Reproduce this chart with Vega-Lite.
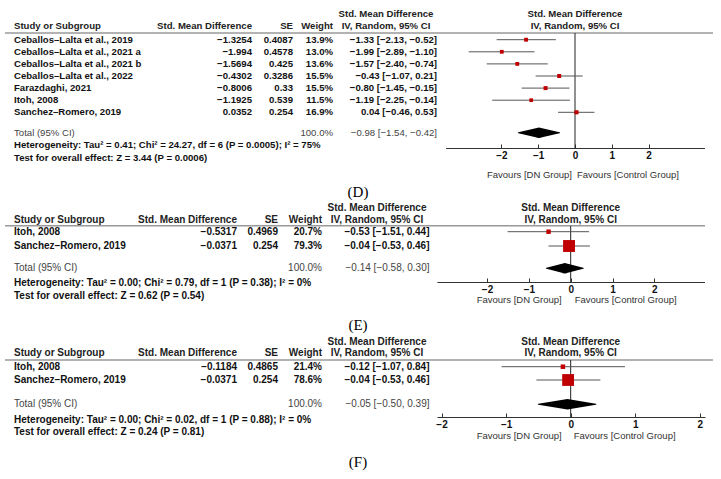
{
"$schema": "https://vega.github.io/schema/vega-lite/v6.json",
"width": 721, "height": 479, "padding": 0, "autosize": {"type": "none"},
"background": "#ffffff",
"config": {"view": {"stroke": null}, "text": {"font": "Liberation Sans", "fontWeight": "bold", "color": "#111111", "baseline": "middle"}},
"datasets": {
"studies": [
{"panel":"D","row":2,"study":"Ceballos–Lalta et al., 2019","smd":"−1.3254","se":"0.4087","weight":13.9,"wlabel":"13.9%","ci":"−1.33 [−2.13, −0.52]","est":-1.33,"lo":-2.13,"hi":-0.52},
{"panel":"D","row":3,"study":"Ceballos–Lalta et al., 2021 a","smd":"−1.994","se":"0.4578","weight":13.0,"wlabel":"13.0%","ci":"−1.99 [−2.89, −1.10]","est":-1.99,"lo":-2.89,"hi":-1.10},
{"panel":"D","row":4,"study":"Ceballos–Lalta et al., 2021 b","smd":"−1.5694","se":"0.425","weight":13.6,"wlabel":"13.6%","ci":"−1.57 [−2.40, −0.74]","est":-1.57,"lo":-2.40,"hi":-0.74},
{"panel":"D","row":5,"study":"Ceballos–Lalta et al., 2022","smd":"−0.4302","se":"0.3286","weight":15.5,"wlabel":"15.5%","ci":"−0.43 [−1.07, 0.21]","est":-0.43,"lo":-1.07,"hi":0.21},
{"panel":"D","row":6,"study":"Farazdaghi, 2021","smd":"−0.8006","se":"0.33","weight":15.5,"wlabel":"15.5%","ci":"−0.80 [−1.45, −0.15]","est":-0.80,"lo":-1.45,"hi":-0.15},
{"panel":"D","row":7,"study":"Itoh, 2008","smd":"−1.1925","se":"0.539","weight":11.5,"wlabel":"11.5%","ci":"−1.19 [−2.25, −0.14]","est":-1.19,"lo":-2.25,"hi":-0.14},
{"panel":"D","row":8,"study":"Sanchez–Romero, 2019","smd":"0.0352","se":"0.254","weight":16.9,"wlabel":"16.9%","ci":"0.04 [−0.46, 0.53]","est":0.04,"lo":-0.46,"hi":0.53},
{"panel":"E","row":16,"study":"Itoh, 2008","smd":"−0.5317","se":"0.4969","weight":20.7,"wlabel":"20.7%","ci":"−0.53 [−1.51, 0.44]","est":-0.53,"lo":-1.51,"hi":0.44},
{"panel":"E","row":17,"study":"Sanchez–Romero, 2019","smd":"−0.0371","se":"0.254","weight":79.3,"wlabel":"79.3%","ci":"−0.04 [−0.53, 0.46]","est":-0.04,"lo":-0.53,"hi":0.46},
{"panel":"F","row":25,"study":"Itoh, 2008","smd":"−0.1184","se":"0.4865","weight":21.4,"wlabel":"21.4%","ci":"−0.12 [−1.07, 0.84]","est":-0.12,"lo":-1.07,"hi":0.84},
{"panel":"F","row":26,"study":"Sanchez–Romero, 2019","smd":"−0.0371","se":"0.254","weight":78.6,"wlabel":"78.6%","ci":"−0.04 [−0.53, 0.46]","est":-0.04,"lo":-0.53,"hi":0.46}
],
"totals": [
{"panel":"D","row":9,"label":"Total (95% CI)","wlabel":"100.0%","ci":"−0.98 [−1.54, −0.42]"},
{"panel":"E","row":18,"label":"Total (95% CI)","wlabel":"100.0%","ci":"−0.14 [−0.58, 0.30]"},
{"panel":"F","row":27,"label":"Total (95% CI)","wlabel":"100.0%","ci":"−0.05 [−0.50, 0.39]"}
],
"diamond": [
{"panel":"D","row":9,"part":"lower","x":-1.54},{"panel":"D","row":9,"part":"estimate","x":-0.98},{"panel":"D","row":9,"part":"upper","x":-0.42},
{"panel":"E","row":18,"part":"lower","x":-0.58},{"panel":"E","row":18,"part":"estimate","x":-0.14},{"panel":"E","row":18,"part":"upper","x":0.30},
{"panel":"F","row":27,"part":"lower","x":-0.50},{"panel":"F","row":27,"part":"estimate","x":-0.05},{"panel":"F","row":27,"part":"upper","x":0.39}
],
"notes": [
{"panel":"D","row":10,"text":"Heterogeneity: Tau² = 0.41; Chi² = 24.27, df = 6 (P = 0.0005); I² = 75%"},
{"panel":"D","row":11,"text":"Test for overall effect: Z = 3.44 (P = 0.0006)"},
{"panel":"E","row":19,"text":"Heterogeneity: Tau² = 0.00; Chi² = 0.79, df = 1 (P = 0.38); I² = 0%"},
{"panel":"E","row":20,"text":"Test for overall effect: Z = 0.62 (P = 0.54)"},
{"panel":"F","row":28,"text":"Heterogeneity: Tau² = 0.00; Chi² = 0.02, df = 1 (P = 0.88); I² = 0%"},
{"panel":"F","row":29,"text":"Test for overall effect: Z = 0.24 (P = 0.81)"}
],
"headers": [
{"panel":"D","row":0,"col":6,"text":"Std. Mean Difference"},
{"panel":"D","row":1,"col":1,"text":"Study or Subgroup"},
{"panel":"D","row":1,"col":2,"text":"Std. Mean Difference"},
{"panel":"D","row":1,"col":3,"text":"SE"},
{"panel":"D","row":1,"col":4,"text":"Weight"},
{"panel":"D","row":1,"col":6,"text":"IV, Random, 95% CI"},
{"panel":"E","row":14,"col":6,"text":"Std. Mean Difference"},
{"panel":"E","row":15,"col":1,"text":"Study or Subgroup"},
{"panel":"E","row":15,"col":2,"text":"Std. Mean Difference"},
{"panel":"E","row":15,"col":3,"text":"SE"},
{"panel":"E","row":15,"col":4,"text":"Weight"},
{"panel":"E","row":15,"col":6,"text":"IV, Random, 95% CI"},
{"panel":"F","row":23,"col":6,"text":"Std. Mean Difference"},
{"panel":"F","row":24,"col":1,"text":"Study or Subgroup"},
{"panel":"F","row":24,"col":2,"text":"Std. Mean Difference"},
{"panel":"F","row":24,"col":3,"text":"SE"},
{"panel":"F","row":24,"col":4,"text":"Weight"},
{"panel":"F","row":24,"col":6,"text":"IV, Random, 95% CI"}
],
"fheaders": [
{"panel":"D","row":0,"text":"Std. Mean Difference"},{"panel":"D","row":1,"text":"IV, Random, 95% CI"},
{"panel":"E","row":14,"text":"Std. Mean Difference"},{"panel":"E","row":15,"text":"IV, Random, 95% CI"},
{"panel":"F","row":23,"text":"Std. Mean Difference"},{"panel":"F","row":24,"text":"IV, Random, 95% CI"}
],
"favours": [
{"panel":"D","row":12,"side":"left","text":"Favours [DN Group]"},{"panel":"D","row":12,"side":"right","text":"Favours [Control Group]"},
{"panel":"E","row":21,"side":"left","text":"Favours [DN Group]"},{"panel":"E","row":21,"side":"right","text":"Favours [Control Group]"},
{"panel":"F","row":30,"side":"left","text":"Favours [DN Group]"},{"panel":"F","row":30,"side":"right","text":"Favours [Control Group]"}
],
"labels": [
{"panel":"D","row":13,"text":"(D)"},{"panel":"E","row":22,"text":"(E)"},{"panel":"F","row":31,"text":"(F)"}
]
},
"encoding": {"y": {"field": "row", "type": "quantitative", "axis": null, "scale": {"domain": [0,1,2,8,9,10,11,12,13,14,15,16,17,18,19,20,21,22,23,24,25,26,27,28,29,30,31], "range": [13.7,26.3,39.7,112.3,132.7,145,157.5,175,192,207.7,220,231.7,246,268.3,283.3,296,300,325,341.7,353.3,366.7,380,404.3,420,431.7,436,461.7], "zero": false, "nice": false}}},
"resolve": {"scale": {"x": "independent", "size": "independent"}, "axis": {"x": "independent"}},
"layer": [
{
"layer": [
{"data": {"name": "labels"}, "transform": [{"filter": "datum.panel === 'D'"}], "mark": {"type": "rule", "color": "#666666", "strokeWidth": 1}, "encoding": {"x": {"datum": 0, "type": "quantitative", "axis": null, "scale": {"domain": [0,1,2,3,4,5,6,7,8,9], "range": [5,14,252,293,333,358,386,437,713,713], "zero": false, "nice": false}}, "x2": {"datum": 8}, "y": {"datum": 1.5, "type": "quantitative"}}},
{"data": {"name": "labels"}, "transform": [{"filter": "datum.panel === 'D'"}], "mark": {"type": "text", "font": "Liberation Serif", "fontWeight": "normal", "fontSize": 15, "color": "#000000", "align": "center"}, "encoding": {"x": {"datum": 5, "type": "quantitative"}, "text": {"field": "text"}}},
{"data": {"name": "headers"}, "transform": [{"filter": "datum.panel === 'D' && datum.col === 1"}], "mark": {"type": "text", "align": "left", "fontSize": 9.6, "color": "#222222"}, "encoding": {"x": {"field": "col", "type": "quantitative"}, "text": {"field": "text"}}},
{"data": {"name": "headers"}, "transform": [{"filter": "datum.panel === 'D' && datum.col >= 2 && datum.col <= 4"}], "mark": {"type": "text", "align": "right", "fontSize": 9.6, "color": "#222222"}, "encoding": {"x": {"field": "col", "type": "quantitative"}, "text": {"field": "text"}}},
{"data": {"name": "headers"}, "transform": [{"filter": "datum.panel === 'D' && datum.col === 6"}], "mark": {"type": "text", "align": "center", "fontSize": 9.6, "color": "#222222"}, "encoding": {"x": {"field": "col", "type": "quantitative"}, "text": {"field": "text"}}},
{"data": {"name": "studies"}, "transform": [{"filter": "datum.panel === 'D'"}], "mark": {"type": "text", "align": "left", "fontSize": 9.6}, "encoding": {"x": {"datum": 1, "type": "quantitative"}, "text": {"field": "study"}}},
{"data": {"name": "studies"}, "transform": [{"filter": "datum.panel === 'D'"}], "mark": {"type": "text", "align": "right", "fontSize": 9.6}, "encoding": {"x": {"datum": 2, "type": "quantitative"}, "text": {"field": "smd"}}},
{"data": {"name": "studies"}, "transform": [{"filter": "datum.panel === 'D'"}], "mark": {"type": "text", "align": "right", "fontSize": 9.6}, "encoding": {"x": {"datum": 3, "type": "quantitative"}, "text": {"field": "se"}}},
{"data": {"name": "studies"}, "transform": [{"filter": "datum.panel === 'D'"}], "mark": {"type": "text", "align": "right", "fontSize": 9.6}, "encoding": {"x": {"datum": 4, "type": "quantitative"}, "text": {"field": "wlabel"}}},
{"data": {"name": "studies"}, "transform": [{"filter": "datum.panel === 'D'"}], "mark": {"type": "text", "align": "right", "fontSize": 9.6}, "encoding": {"x": {"datum": 7, "type": "quantitative"}, "text": {"field": "ci"}}},
{"data": {"name": "totals"}, "transform": [{"filter": "datum.panel === 'D'"}], "mark": {"type": "text", "align": "left", "fontSize": 9.6, "fontWeight": "normal", "color": "#444444"}, "encoding": {"x": {"datum": 1, "type": "quantitative"}, "text": {"field": "label"}}},
{"data": {"name": "totals"}, "transform": [{"filter": "datum.panel === 'D'"}], "mark": {"type": "text", "align": "right", "fontSize": 9.6, "fontWeight": "normal", "color": "#444444"}, "encoding": {"x": {"datum": 4, "type": "quantitative"}, "text": {"field": "wlabel"}}},
{"data": {"name": "totals"}, "transform": [{"filter": "datum.panel === 'D'"}], "mark": {"type": "text", "align": "right", "fontSize": 9.6, "fontWeight": "normal", "color": "#444444"}, "encoding": {"x": {"datum": 7, "type": "quantitative"}, "text": {"field": "ci"}}},
{"data": {"name": "notes"}, "transform": [{"filter": "datum.panel === 'D'"}], "mark": {"type": "text", "align": "left", "fontSize": 9.6}, "encoding": {"x": {"datum": 1, "type": "quantitative"}, "text": {"field": "text"}}}
]
},
{
"layer": [
{"data": {"name": "labels"}, "transform": [{"filter": "datum.panel === 'E'"}], "mark": {"type": "rule", "color": "#666666", "strokeWidth": 1}, "encoding": {"x": {"datum": 0, "type": "quantitative", "axis": null, "scale": {"domain": [0,1,2,3,4,5,6,7,8,9], "range": [5,14,237,278,322,358,377,429.5,705,713], "zero": false, "nice": false}}, "x2": {"datum": 8}, "y": {"datum": 15.5, "type": "quantitative"}}},
{"data": {"name": "labels"}, "transform": [{"filter": "datum.panel === 'F'"}], "mark": {"type": "rule", "color": "#666666", "strokeWidth": 1}, "encoding": {"x": {"datum": 0, "type": "quantitative"}, "x2": {"datum": 9}, "y": {"datum": 24.5, "type": "quantitative"}}},
{"data": {"name": "labels"}, "transform": [{"filter": "datum.panel !== 'D'"}], "mark": {"type": "text", "font": "Liberation Serif", "fontWeight": "normal", "fontSize": 15, "color": "#000000", "align": "center"}, "encoding": {"x": {"datum": 5, "type": "quantitative"}, "text": {"field": "text"}}},
{"data": {"name": "headers"}, "transform": [{"filter": "datum.panel !== 'D' && datum.col === 1"}], "mark": {"type": "text", "align": "left", "fontSize": 10, "color": "#222222"}, "encoding": {"x": {"field": "col", "type": "quantitative"}, "text": {"field": "text"}}},
{"data": {"name": "headers"}, "transform": [{"filter": "datum.panel !== 'D' && datum.col >= 2 && datum.col <= 4"}], "mark": {"type": "text", "align": "right", "fontSize": 10, "color": "#222222"}, "encoding": {"x": {"field": "col", "type": "quantitative"}, "text": {"field": "text"}}},
{"data": {"name": "headers"}, "transform": [{"filter": "datum.panel !== 'D' && datum.col === 6"}], "mark": {"type": "text", "align": "center", "fontSize": 10, "color": "#222222"}, "encoding": {"x": {"field": "col", "type": "quantitative"}, "text": {"field": "text"}}},
{"data": {"name": "studies"}, "transform": [{"filter": "datum.panel !== 'D'"}], "mark": {"type": "text", "align": "left", "fontSize": 10}, "encoding": {"x": {"datum": 1, "type": "quantitative"}, "text": {"field": "study"}}},
{"data": {"name": "studies"}, "transform": [{"filter": "datum.panel !== 'D'"}], "mark": {"type": "text", "align": "right", "fontSize": 10}, "encoding": {"x": {"datum": 2, "type": "quantitative"}, "text": {"field": "smd"}}},
{"data": {"name": "studies"}, "transform": [{"filter": "datum.panel !== 'D'"}], "mark": {"type": "text", "align": "right", "fontSize": 10}, "encoding": {"x": {"datum": 3, "type": "quantitative"}, "text": {"field": "se"}}},
{"data": {"name": "studies"}, "transform": [{"filter": "datum.panel !== 'D'"}], "mark": {"type": "text", "align": "right", "fontSize": 10}, "encoding": {"x": {"datum": 4, "type": "quantitative"}, "text": {"field": "wlabel"}}},
{"data": {"name": "studies"}, "transform": [{"filter": "datum.panel !== 'D'"}], "mark": {"type": "text", "align": "right", "fontSize": 10}, "encoding": {"x": {"datum": 7, "type": "quantitative"}, "text": {"field": "ci"}}},
{"data": {"name": "totals"}, "transform": [{"filter": "datum.panel !== 'D'"}], "mark": {"type": "text", "align": "left", "fontSize": 10, "fontWeight": "normal", "color": "#444444"}, "encoding": {"x": {"datum": 1, "type": "quantitative"}, "text": {"field": "label"}}},
{"data": {"name": "totals"}, "transform": [{"filter": "datum.panel !== 'D'"}], "mark": {"type": "text", "align": "right", "fontSize": 10, "fontWeight": "normal", "color": "#444444"}, "encoding": {"x": {"datum": 4, "type": "quantitative"}, "text": {"field": "wlabel"}}},
{"data": {"name": "totals"}, "transform": [{"filter": "datum.panel !== 'D'"}], "mark": {"type": "text", "align": "right", "fontSize": 10, "fontWeight": "normal", "color": "#444444"}, "encoding": {"x": {"datum": 7, "type": "quantitative"}, "text": {"field": "ci"}}},
{"data": {"name": "notes"}, "transform": [{"filter": "datum.panel !== 'D'"}], "mark": {"type": "text", "align": "left", "fontSize": 10}, "encoding": {"x": {"datum": 1, "type": "quantitative"}, "text": {"field": "text"}}}
]
},
{
"resolve": {"scale": {"size": "independent"}},
"layer": [
{"data": {"name": "labels"}, "transform": [{"filter": "datum.panel === 'D'"}], "mark": {"type": "rule", "color": "#222222", "strokeWidth": 1}, "encoding": {"x": {"datum": 0, "type": "quantitative", "scale": {"domain": [-3.52, 3.52], "range": [445.5, 704.5], "zero": false, "nice": false}, "axis": {"orient": "bottom", "offset": -331, "values": [-2,-1,0,1,2], "format": "d", "title": null, "grid": false, "labelFlush": false, "domainColor": "#333333", "tickColor": "#333333", "tickSize": -4, "labelPadding": 6, "labelFont": "Liberation Sans", "labelFontSize": 10, "labelFontWeight": "bold", "labelColor": "#111111"}}, "y": {"datum": 1.5, "type": "quantitative"}, "y2": {"datum": 10.24}}},
{"data": {"name": "studies"}, "transform": [{"filter": "datum.panel === 'D'"}], "mark": {"type": "rule", "color": "#555555", "strokeWidth": 1}, "encoding": {"x": {"field": "lo", "type": "quantitative"}, "x2": {"field": "hi"}}},
{"data": {"name": "studies"}, "transform": [{"filter": "datum.panel === 'D'"}], "mark": {"type": "point", "shape": "square", "filled": true, "color": "#c00000", "opacity": 1}, "encoding": {"x": {"field": "est", "type": "quantitative"}, "size": {"field": "weight", "type": "quantitative", "legend": null, "scale": {"type": "pow", "exponent": 2, "domain": [10, 80], "range": [13, 144], "zero": false}}}},
{"data": {"name": "diamond"}, "transform": [{"filter": "datum.panel === 'D'"}], "mark": {"type": "trail", "color": "#000000"}, "encoding": {"x": {"field": "x", "type": "quantitative"}, "size": {"field": "part", "type": "nominal", "legend": null, "scale": {"type": "ordinal", "domain": ["lower", "estimate", "upper"], "range": [0, 10.5, 0]}}}},
{"data": {"name": "fheaders"}, "transform": [{"filter": "datum.panel === 'D'"}], "mark": {"type": "text", "align": "center", "fontSize": 9.6, "color": "#222222"}, "encoding": {"x": {"datum": 0, "type": "quantitative"}, "text": {"field": "text"}}},
{"data": {"name": "favours"}, "transform": [{"filter": "datum.panel === 'D' && datum.side === 'left'"}], "mark": {"type": "text", "align": "right", "dx": -3, "fontSize": 9.5, "fontWeight": "normal", "color": "#333333"}, "encoding": {"x": {"datum": 0, "type": "quantitative"}, "text": {"field": "text"}}},
{"data": {"name": "favours"}, "transform": [{"filter": "datum.panel === 'D' && datum.side === 'right'"}], "mark": {"type": "text", "align": "left", "dx": 2, "fontSize": 9.5, "fontWeight": "normal", "color": "#333333"}, "encoding": {"x": {"datum": 0, "type": "quantitative"}, "text": {"field": "text"}}}
]
},
{
"resolve": {"scale": {"size": "independent"}},
"layer": [
{"data": {"name": "labels"}, "transform": [{"filter": "datum.panel === 'E'"}], "mark": {"type": "rule", "color": "#222222", "strokeWidth": 1}, "encoding": {"x": {"datum": 0, "type": "quantitative", "scale": {"domain": [-3.2, 3.2], "range": [436.9, 704.5], "zero": false, "nice": false}, "axis": {"orient": "bottom", "offset": -197, "values": [-2,-1,0,1,2], "format": "d", "title": null, "grid": false, "labelFlush": false, "domainColor": "#333333", "tickColor": "#333333", "tickSize": -4, "labelPadding": 6, "labelFont": "Liberation Sans", "labelFontSize": 10, "labelFontWeight": "bold", "labelColor": "#111111"}}, "y": {"datum": 15.5, "type": "quantitative"}, "y2": {"datum": 18.91}}},
{"data": {"name": "studies"}, "transform": [{"filter": "datum.panel === 'E'"}], "mark": {"type": "rule", "color": "#555555", "strokeWidth": 1}, "encoding": {"x": {"field": "lo", "type": "quantitative"}, "x2": {"field": "hi"}}},
{"data": {"name": "studies"}, "transform": [{"filter": "datum.panel === 'E'"}], "mark": {"type": "point", "shape": "square", "filled": true, "color": "#c00000", "opacity": 1}, "encoding": {"x": {"field": "est", "type": "quantitative"}, "size": {"field": "weight", "type": "quantitative", "legend": null, "scale": {"type": "pow", "exponent": 2, "domain": [10, 80], "range": [13, 144], "zero": false}}}},
{"data": {"name": "diamond"}, "transform": [{"filter": "datum.panel === 'E'"}], "mark": {"type": "trail", "color": "#000000"}, "encoding": {"x": {"field": "x", "type": "quantitative"}, "size": {"field": "part", "type": "nominal", "legend": null, "scale": {"type": "ordinal", "domain": ["lower", "estimate", "upper"], "range": [0, 10.5, 0]}}}},
{"data": {"name": "fheaders"}, "transform": [{"filter": "datum.panel === 'E'"}], "mark": {"type": "text", "align": "center", "fontSize": 10, "color": "#222222"}, "encoding": {"x": {"datum": 0, "type": "quantitative"}, "text": {"field": "text"}}},
{"data": {"name": "favours"}, "transform": [{"filter": "datum.panel === 'E' && datum.side === 'left'"}], "mark": {"type": "text", "align": "right", "dx": -9, "fontSize": 9.5, "fontWeight": "normal", "color": "#333333"}, "encoding": {"x": {"datum": 0, "type": "quantitative"}, "text": {"field": "text"}}},
{"data": {"name": "favours"}, "transform": [{"filter": "datum.panel === 'E' && datum.side === 'right'"}], "mark": {"type": "text", "align": "left", "dx": 4, "fontSize": 9.5, "fontWeight": "normal", "color": "#333333"}, "encoding": {"x": {"datum": 0, "type": "quantitative"}, "text": {"field": "text"}}}
]
},
{
"resolve": {"scale": {"size": "independent"}},
"layer": [
{"data": {"name": "labels"}, "transform": [{"filter": "datum.panel === 'F'"}], "mark": {"type": "rule", "color": "#222222", "strokeWidth": 1}, "encoding": {"x": {"datum": 0, "type": "quantitative", "scale": {"domain": [-2.07, 2.08], "range": [437, 705], "zero": false, "nice": false}, "axis": {"orient": "bottom", "offset": -62, "values": [-2,-1,0,1,2], "format": "d", "title": null, "grid": false, "labelFlush": false, "domainColor": "#333333", "tickColor": "#333333", "tickSize": -4, "labelPadding": 6, "labelFont": "Liberation Sans", "labelFontSize": 10, "labelFontWeight": "bold", "labelColor": "#111111"}}, "y": {"datum": 24.5, "type": "quantitative"}, "y2": {"datum": 27.83}}},
{"data": {"name": "studies"}, "transform": [{"filter": "datum.panel === 'F'"}], "mark": {"type": "rule", "color": "#555555", "strokeWidth": 1}, "encoding": {"x": {"field": "lo", "type": "quantitative"}, "x2": {"field": "hi"}}},
{"data": {"name": "studies"}, "transform": [{"filter": "datum.panel === 'F'"}], "mark": {"type": "point", "shape": "square", "filled": true, "color": "#c00000", "opacity": 1}, "encoding": {"x": {"field": "est", "type": "quantitative"}, "size": {"field": "weight", "type": "quantitative", "legend": null, "scale": {"type": "pow", "exponent": 2, "domain": [10, 80], "range": [13, 144], "zero": false}}}},
{"data": {"name": "diamond"}, "transform": [{"filter": "datum.panel === 'F'"}], "mark": {"type": "trail", "color": "#000000"}, "encoding": {"x": {"field": "x", "type": "quantitative"}, "size": {"field": "part", "type": "nominal", "legend": null, "scale": {"type": "ordinal", "domain": ["lower", "estimate", "upper"], "range": [0, 10.5, 0]}}}},
{"data": {"name": "fheaders"}, "transform": [{"filter": "datum.panel === 'F'"}], "mark": {"type": "text", "align": "center", "fontSize": 10, "color": "#222222"}, "encoding": {"x": {"datum": 0, "type": "quantitative"}, "text": {"field": "text"}}},
{"data": {"name": "favours"}, "transform": [{"filter": "datum.panel === 'F' && datum.side === 'left'"}], "mark": {"type": "text", "align": "right", "dx": -9, "fontSize": 9.5, "fontWeight": "normal", "color": "#333333"}, "encoding": {"x": {"datum": 0, "type": "quantitative"}, "text": {"field": "text"}}},
{"data": {"name": "favours"}, "transform": [{"filter": "datum.panel === 'F' && datum.side === 'right'"}], "mark": {"type": "text", "align": "left", "dx": 3, "fontSize": 9.5, "fontWeight": "normal", "color": "#333333"}, "encoding": {"x": {"datum": 0, "type": "quantitative"}, "text": {"field": "text"}}}
]
}
]
}
